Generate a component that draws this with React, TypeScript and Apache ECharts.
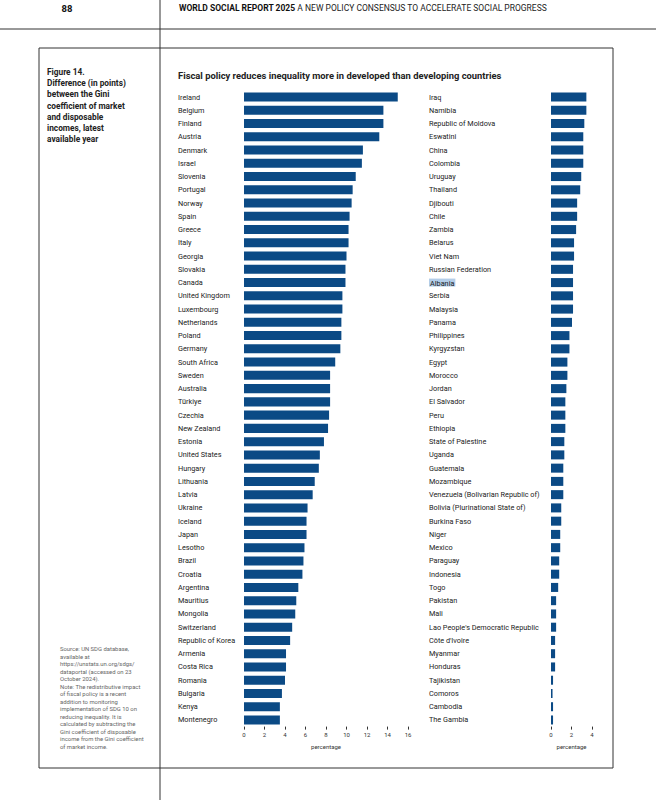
import React, { useEffect, useRef } from "react";
import * as echarts from "echarts";

const developedCountries = [
  "Ireland", "Belgium", "Finland", "Austria", "Denmark", "Israel", "Slovenia", "Portugal",
  "Norway", "Spain", "Greece", "Italy", "Georgia", "Slovakia", "Canada", "United Kingdom",
  "Luxembourg", "Netherlands", "Poland", "Germany", "South Africa", "Sweden", "Australia",
  "Türkiye", "Czechia", "New Zealand", "Estonia", "United States", "Hungary", "Lithuania",
  "Latvia", "Ukraine", "Iceland", "Japan", "Lesotho", "Brazil", "Croatia", "Argentina",
  "Mauritius", "Mongolia", "Switzerland", "Republic of Korea", "Armenia", "Costa Rica",
  "Romania", "Bulgaria", "Kenya", "Montenegro",
];
const developedValues = [
  15.0, 13.6, 13.6, 13.2, 11.6, 11.5, 10.9, 10.6,
  10.5, 10.3, 10.2, 10.2, 10.0, 9.9, 9.9, 9.6,
  9.6, 9.5, 9.5, 9.4, 8.9, 8.4, 8.4,
  8.4, 8.3, 8.2, 7.8, 7.4, 7.3, 6.9,
  6.7, 6.2, 6.1, 6.1, 5.9, 5.8, 5.7, 5.3,
  5.1, 5.0, 4.7, 4.5, 4.1, 4.1,
  4.0, 3.7, 3.5, 3.5,
];

const developingCountries = [
  "Iraq", "Namibia", "Republic of Moldova", "Eswatini", "China", "Colombia", "Uruguay",
  "Thailand", "Djibouti", "Chile", "Zambia", "Belarus", "Viet Nam", "Russian Federation",
  "Albania", "Serbia", "Malaysia", "Panama", "Philippines", "Kyrgyzstan", "Egypt", "Morocco",
  "Jordan", "El Salvador", "Peru", "Ethiopia", "State of Palestine", "Uganda", "Guatemala",
  "Mozambique", "Venezuela (Bolivarian Republic of)", "Bolivia (Plurinational State of)",
  "Burkina Faso", "Niger", "Mexico", "Paraguay", "Indonesia", "Togo", "Pakistan", "Mali",
  "Lao People's Democratic Republic", "Côte d'Ivoire", "Myanmar", "Honduras", "Tajikistan",
  "Comoros", "Cambodia", "The Gambia",
];
const developingValues = [
  3.45, 3.45, 3.25, 3.15, 3.15, 3.15, 2.95,
  2.85, 2.55, 2.55, 2.45, 2.25, 2.25, 2.15,
  2.15, 2.15, 2.15, 2.05, 1.8, 1.8, 1.6, 1.6,
  1.5, 1.4, 1.4, 1.4, 1.3, 1.3, 1.2,
  1.2, 1.2, 1.0,
  1.0, 0.9, 0.9, 0.8, 0.8, 0.7, 0.5, 0.5,
  0.5, 0.4, 0.4, 0.4, 0.2,
  0.15, 0.2, 0.2,
];

const highlightedLabel = "Albania";

const headerBold = "WORLD SOCIAL REPORT 2025";
const headerRegular = " A NEW POLICY CONSENSUS TO ACCELERATE SOCIAL PROGRESS";
const pageNumber = "88";
const chartTitle = "Fiscal policy reduces inequality more in developed than developing countries";
const figureTitleLines = [
  "Figure 14.",
  "Difference (in points)",
  "between the Gini",
  "coefficient of market",
  "and disposable",
  "incomes, latest",
  "available year",
];
const sourceLines = [
  "Source: UN SDG database,",
  "available at",
  "https://unstats.un.org/sdgs/",
  "dataportal (accessed on 23",
  "October 2024).",
  "Note: The redistributive impact",
  "of fiscal policy is a recent",
  "addition to monitoring",
  "implementation of SDG 10 on",
  "reducing inequality. It is",
  "calculated by subtracting the",
  "Gini coefficient of disposable",
  "income from the Gini coefficient",
  "of market income.",
];
const axisName = "percentage";

const BAR_COLOR = "#0b4a85";
const FONT = "Roboto, 'Noto Sans', sans-serif";

export default function App() {
  const ref = useRef<HTMLDivElement>(null);

  useEffect(() => {
    if (!ref.current) return;
    const chart = echarts.init(ref.current, null, { renderer: "svg" });

    const gridTop = 90.4;
    const gridHeight = 636.2;

    const xAxisCommon = (max: number) => ({
      type: "value" as const,
      min: 0,
      max,
      interval: 2,
      axisLine: { show: false },
      axisTick: { show: true, length: 3, lineStyle: { color: "#333", width: 1 } },
      splitLine: { show: false },
      axisLabel: { fontSize: 6, color: "#333", fontFamily: FONT, margin: 5 },
      name: axisName,
      nameLocation: "middle" as const,
      nameGap: 17,
      nameTextStyle: { fontSize: 6, color: "#333", fontFamily: FONT },
    });

    const yAxisCommon = (data: string[], margin: number) => ({
      type: "category" as const,
      inverse: true,
      data,
      axisLine: { show: false },
      axisTick: { show: false },
      axisLabel: {
        align: "left" as const,
        margin,
        fontSize: 7.3,
        color: "#222",
        fontFamily: FONT,
        interval: 0,
        formatter: (v: string) => (v === highlightedLabel ? `{hl|${v}}` : v),
        rich: {
          hl: {
            backgroundColor: "#b3cde8",
            fontSize: 7.3,
            color: "#222",
            fontFamily: FONT,
            padding: [1, 1, 0, 1],
          },
        },
      },
    });

    const graphics: any[] = [
      { type: "line", shape: { x1: 0, y1: 29, x2: 656, y2: 29 }, style: { stroke: "#333", lineWidth: 1 } },
      { type: "line", shape: { x1: 160, y1: 0, x2: 160, y2: 800 }, style: { stroke: "#333", lineWidth: 1 } },
      { type: "rect", shape: { x: 39, y: 48, width: 574, height: 720 }, style: { fill: "none", stroke: "#333", lineWidth: 1 } },
      {
        type: "text",
        x: 67,
        y: 8,
        style: { text: pageNumber, font: `bold 9.5px ${FONT}`, fill: "#111", align: "center", verticalAlign: "middle" },
      },
      {
        type: "text",
        x: 179,
        y: 8,
        style: {
          text: `{b|${headerBold}}{r|${headerRegular}}`,
          verticalAlign: "middle",
          rich: {
            b: { fontFamily: FONT, fontWeight: "bold", fontSize: 8.5, fill: "#111" },
            r: { fontFamily: FONT, fontSize: 8.5, fill: "#222" },
          },
        },
      },
      {
        type: "text",
        x: 178,
        y: 75,
        style: { text: chartTitle, font: `bold 9.4px ${FONT}`, fill: "#222", verticalAlign: "middle" },
      },
    ];

    figureTitleLines.forEach((line, i) => {
      graphics.push({
        type: "text",
        x: 47,
        y: 72 + i * 11.2,
        style: { text: line, font: `bold 8.3px ${FONT}`, fill: "#222", verticalAlign: "middle" },
      });
    });
    sourceLines.forEach((line, i) => {
      graphics.push({
        type: "text",
        x: 60,
        y: 649 + i * 7.5,
        style: { text: line, font: `5.9px ${FONT}`, fill: "#666", verticalAlign: "middle" },
      });
    });

    chart.setOption({
      animation: false,
      grid: [
        { left: 244, width: 164, top: gridTop, height: gridHeight, containLabel: false },
        { left: 551, width: 41, top: gridTop, height: gridHeight, containLabel: false },
      ],
      xAxis: [
        { ...xAxisCommon(16), gridIndex: 0 },
        { ...xAxisCommon(4), gridIndex: 1 },
      ],
      yAxis: [
        { ...yAxisCommon(developedCountries, 66), gridIndex: 0 },
        { ...yAxisCommon(developingCountries, 122), gridIndex: 1 },
      ],
      series: [
        {
          type: "bar",
          xAxisIndex: 0,
          yAxisIndex: 0,
          data: developedValues,
          barCategoryGap: "32%",
          itemStyle: { color: BAR_COLOR },
        },
        {
          type: "bar",
          xAxisIndex: 1,
          yAxisIndex: 1,
          data: developingValues,
          barCategoryGap: "32%",
          itemStyle: { color: BAR_COLOR },
        },
      ],
      graphic: graphics,
    });

    return () => chart.dispose();
  }, []);

  return (
    <div
      ref={ref}
      style={{ position: "absolute", left: 0, top: 0, width: 656, height: 800, background: "#fff" }}
    />
  );
}
